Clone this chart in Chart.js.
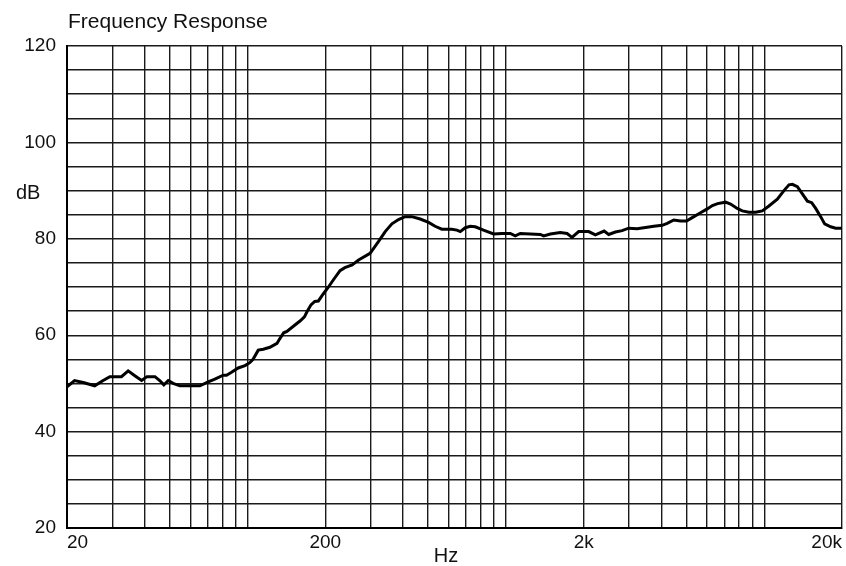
<!DOCTYPE html>
<html>
<head>
<meta charset="utf-8">
<title>Frequency Response</title>
<script src="https://cdn.jsdelivr.net/npm/chart.js@4.4.1/dist/chart.umd.min.js"></script>
<style>
    html, body { margin: 0; padding: 0; background: #fff; }
    #wrap { width: 846px; height: 566px; }
</style>
</head>
<body>
<div id="wrap"><canvas id="chart-respuesta" width="846" height="566"></canvas></div>
<script>
// Curva: frecuencia (Hz) y nivel (dB)
const frecuencias = [20, 21.4, 23.1, 25.6, 27.6, 29.3, 32.5, 34.5, 36.6, 38.9,
    40.8, 43.8, 45.7, 47.4, 49.3, 51.5, 54.7, 65.4, 70.4, 74.7,
    80.5, 82.9, 86.7, 92, 97.7, 102, 105, 110, 115, 122,
    130, 133, 138, 142, 150, 160, 166, 170, 176, 182,
    188, 196, 205, 215, 228, 238, 254, 269, 298, 321,
    341, 362, 384, 407, 432, 466, 502, 532, 565, 618,
    646, 666, 696, 728, 761, 819, 896, 966, 1040, 1087,
    1137, 1243, 1359, 1400, 1486, 1624, 1725, 1803, 1913, 2091,
    2220, 2400, 2500, 2654, 2817, 2988, 3221, 3418, 3737, 4027,
    4211, 4466, 4742, 5003, 5264, 5669, 6017, 6300, 6600, 7084,
    7408, 7862, 8222, 8720, 9258, 9828, 10426, 11238, 11922, 12466,
    12850, 13434, 14048, 14690, 15264, 15820, 16538, 17138, 18082, 18908,
    20000];
const niveles = [49.3, 50.6, 50.2, 49.5, 50.6, 51.4, 51.4, 52.6, 51.6, 50.6,
    51.4, 51.4, 50.6, 49.7, 50.6, 50.0, 49.5, 49.5, 50.3, 50.9,
    51.7, 51.7, 52.3, 53.2, 53.7, 54.3, 55.0, 56.9, 57.1, 57.5,
    58.3, 59.2, 60.5, 60.8, 61.8, 63.0, 63.8, 64.9, 66.3, 67.0,
    67.1, 68.5, 69.9, 71.5, 73.4, 74.0, 74.6, 75.6, 77.0, 79.4,
    81.5, 83.1, 84.0, 84.6, 84.6, 84.1, 83.4, 82.6, 82.0, 82.0,
    81.8, 81.5, 82.3, 82.6, 82.5, 81.8, 81.0, 81.1, 81.1, 80.6,
    81.1, 81.0, 80.9, 80.6, 81.0, 81.3, 81.1, 80.3, 81.5, 81.5,
    80.8, 81.6, 80.9, 81.4, 81.7, 82.2, 82.1, 82.3, 82.6, 82.8,
    83.2, 83.9, 83.7, 83.7, 84.4, 85.4, 86.2, 86.9, 87.3, 87.6,
    87.2, 86.3, 85.8, 85.5, 85.5, 85.8, 86.8, 88.2, 90.0, 91.2,
    91.3, 90.8, 89.3, 87.8, 87.5, 86.3, 84.6, 83.1, 82.5, 82.2,
    82.2];

// Lineas verticales (Hz) y etiquetas del eje X
const ticksX = [20, 30, 40, 50, 60, 70, 80, 90, 100,
    200, 300, 400, 500, 600, 700, 800, 900, 1000,
    2000, 3000, 4000, 5000, 6000, 7000, 8000, 9000, 10000, 20000];
const etiquetasX = { 20: '20', 200: '200', 2000: '2k', 20000: '20k' };

// Lineas horizontales (dB) cada 5, etiquetas cada 20
const ticksY = [20, 25, 30, 35, 40, 45, 50, 55, 60, 65, 70, 75, 80, 85, 90, 95, 100, 105, 110, 115, 120];
const etiquetasY = [20, 40, 60, 80, 100, 120];

const fuente = '"Liberation Sans", Arial, Helvetica, sans-serif';

// Titulo, "dB" y "Hz" en horizontal
const textosExtra = {
    id: 'textosExtra',
    afterDraw(chart) {
        const { ctx, chartArea } = chart;
        ctx.save();
        ctx.fillStyle = '#111';
        ctx.textBaseline = 'alphabetic';
        ctx.textAlign = 'left';
        ctx.font = '21px ' + fuente;
        ctx.fillText('Frequency Response', chartArea.left + 1, 28);
        ctx.font = '20px ' + fuente;
        ctx.fillText('dB', 16, 199);
        ctx.textAlign = 'center';
        ctx.fillText('Hz', 446, 562);
        ctx.restore();
    }
};

const puntos = frecuencias.map((f, i) => ({ x: f, y: niveles[i] }));

const canvas = document.getElementById('chart-respuesta');
window.chartRespuesta = new Chart(canvas, {
    type: 'line',
    data: {
        datasets: [{
            label: 'Frequency Response',
            data: puntos,
            borderColor: '#000',
            borderWidth: 3,
            pointRadius: 0,
            tension: 0,
            fill: false
        }]
    },
    options: {
        responsive: false,
        animation: false,
        layout: { padding: { top: 46, right: 4, bottom: 0, left: 0 } },
        plugins: { legend: { display: false }, tooltip: { enabled: false }, title: { display: false } },
        scales: {
            x: {
                type: 'logarithmic',
                min: 20,
                max: 20000,
                afterBuildTicks: (s) => { s.ticks = ticksX.map(v => ({ value: v })); },
                afterFit: (s) => { s.height = 38; },
                grid: { color: '#1a1a1a', lineWidth: 1.4, drawTicks: false },
                border: { color: '#000', width: 2 },
                ticks: {
                    autoSkip: false,
                    maxRotation: 0,
                    align: 'inner',
                    padding: 3,
                    color: '#111',
                    font: { family: fuente, size: 19 },
                    callback: (v) => etiquetasX[v] || ''
                }
            },
            y: {
                type: 'linear',
                min: 20,
                max: 120,
                afterBuildTicks: (s) => { s.ticks = ticksY.map(v => ({ value: v })); },
                afterFit: (s) => { s.width = 67; },
                grid: { color: '#1a1a1a', lineWidth: 1.4, drawTicks: false },
                border: { color: '#000', width: 2 },
                ticks: {
                    autoSkip: false,
                    padding: 11,
                    color: '#111',
                    font: { family: fuente, size: 19 },
                    callback: (v) => etiquetasY.includes(v) ? String(v) : ''
                }
            }
        }
    },
    plugins: [textosExtra]
});
</script>
</body>
</html>
